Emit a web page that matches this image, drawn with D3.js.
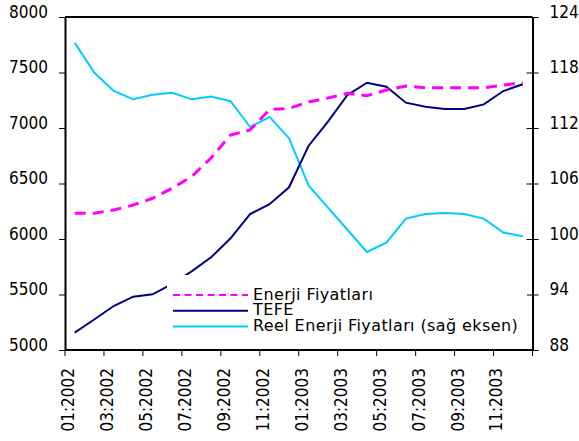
<!DOCTYPE html>
<html>
<head>
<meta charset="utf-8">
<title>Enerji Fiyatlari</title>
<style>
    body { margin: 0; background: #fff; }
    text { font-family: "DejaVu Sans Condensed", "DejaVu Sans", sans-serif; fill: #000; }
</style>
</head>
<body>
<svg id="chart"></svg>
<script src="https://d3js.org/d3.v7.min.js"></script>
<script>
    // months on the x axis
    const months = ["01:2002", "02:2002", "03:2002", "04:2002", "05:2002", "06:2002",
                    "07:2002", "08:2002", "09:2002", "10:2002", "11:2002", "12:2002",
                    "01:2003", "02:2003", "03:2003", "04:2003", "05:2003", "06:2003",
                    "07:2003", "08:2003", "09:2003", "10:2003", "11:2003", "12:2003"];
    const monthLabels = ["01:2002", "03:2002", "05:2002", "07:2002", "09:2002", "11:2002",
                         "01:2003", "03:2003", "05:2003", "07:2003", "09:2003", "11:2003"];

    // left axis series
    const enerji = [6231, 6233, 6261, 6306, 6367, 6457, 6561, 6730, 6937, 6982, 7166, 7177,
                    7234, 7270, 7313, 7291, 7342, 7378, 7363, 7363, 7363, 7363, 7387, 7405];
    const tefe = [5156, 5275, 5396, 5480, 5502, 5595, 5709, 5835, 6006, 6225, 6313, 6466,
                  6838, 7057, 7297, 7408, 7372, 7228, 7192, 7171, 7171, 7213, 7333, 7394];
    // right axis series
    const reel = [121.2, 118.0, 116.0, 115.1, 115.6, 115.8, 115.1, 115.4, 114.9, 112.1, 113.2, 110.9,
                  105.8, 103.4, 101.0, 98.6, 99.6, 102.2, 102.7, 102.8, 102.7, 102.2, 100.7, 100.3];

    const leftTicks = [5000, 5500, 6000, 6500, 7000, 7500, 8000];
    const rightTicks = [88, 94, 100, 106, 112, 118, 124];

    const legendNames = ["Enerji Fiyatları", "TEFE", "Reel Enerji Fiyatları (sağ eksen)"];

    const svgWidth = 579, svgHeight = 441;
    const margin = {top: 17, right: 46.5, bottom: 91, left: 65};
    const width = svgWidth - margin.left - margin.right;
    const height = svgHeight - margin.top - margin.bottom;

    const svg = d3.select("#chart")
        .attr("width", svgWidth)
        .attr("height", svgHeight);

    const g = svg.append("g")
        .attr("transform", "translate(" + margin.left + "," + margin.top + ")");

    const x = d3.scaleBand().domain(months).range([0, width]).padding(0);
    const yL = d3.scaleLinear().domain([5000, 8000]).range([height, 0]);
    const yR = d3.scaleLinear().domain([88, 124]).range([height, 0]);
    const cx = function(i) { return x(months[i]) + x.bandwidth() / 2; };

    // top border of the plot area
    g.append("line")
        .attr("x1", 0).attr("x2", width)
        .attr("y1", 0).attr("y2", 0)
        .attr("stroke", "#000")
        .attr("stroke-width", 2);

    // lines
    const lineL = d3.line()
        .x(function(d, i) { return cx(i); })
        .y(function(d) { return yL(d); });
    const lineR = d3.line()
        .x(function(d, i) { return cx(i); })
        .y(function(d) { return yR(d); });

    g.append("path")
        .datum(reel)
        .attr("fill", "none")
        .attr("stroke", "#00CCFF")
        .attr("stroke-width", 2)
        .attr("d", lineR);

    g.append("path")
        .datum(tefe)
        .attr("fill", "none")
        .attr("stroke", "#000080")
        .attr("stroke-width", 2)
        .attr("d", lineL);

    g.append("path")
        .datum(enerji)
        .attr("fill", "none")
        .attr("stroke", "#FF00FF")
        .attr("stroke-width", 3)
        .attr("stroke-dasharray", "11,7")
        .attr("d", lineL);

    // left axis
    const axL = g.append("g")
        .call(d3.axisLeft(yL).tickValues(leftTicks).tickFormat(d3.format("d"))
            .tickSize(6).tickSizeOuter(0).tickPadding(11));
    axL.select(".domain").attr("stroke-width", 2);
    axL.selectAll("text").attr("y", -5).style("font-size", "17px")
        .style("font-family", "'DejaVu Sans Condensed', sans-serif");

    // right axis
    const axR = g.append("g")
        .attr("transform", "translate(" + width + ",0)")
        .call(d3.axisRight(yR).tickValues(rightTicks).tickSize(6).tickSizeOuter(0).tickPadding(11));
    axR.select(".domain").attr("stroke-width", 2);
    axR.selectAll(".tick line").attr("x1", -6);
    axR.selectAll("text").attr("y", -5).style("font-size", "17px")
        .style("font-family", "'DejaVu Sans Condensed', sans-serif");

    // bottom axis
    const axB = g.append("g").attr("transform", "translate(0," + height + ")");
    axB.append("line")
        .attr("x1", 0).attr("x2", width)
        .attr("stroke", "#000")
        .attr("stroke-width", 2);
    const tickPos = monthLabels.map(function(m) { return x(m); }).concat([width]);
    axB.selectAll(".tk")
        .data(tickPos)
        .enter().append("line")
        .attr("x1", function(d) { return d; })
        .attr("x2", function(d) { return d; })
        .attr("y1", 0).attr("y2", 6)
        .attr("stroke", "#000");
    axB.selectAll(".lbl")
        .data(monthLabels)
        .enter().append("text")
        .attr("transform", function(d) { return "translate(" + (x(d) + 3) + ",18) rotate(-90)"; })
        .attr("text-anchor", "end")
        .attr("dy", "0.35em")
        .style("font-size", "17px")
        .text(function(d) { return d; });

    // legend
    const leg = g.append("g").attr("transform", "translate(102,258)");
    leg.append("rect")
        .attr("x", 0).attr("y", 0)
        .attr("width", 360).attr("height", 60)
        .attr("fill", "#fff");
    const legColors = ["#FF00FF", "#000080", "#00CCFF"];
    legendNames.forEach(function(name, i) {
        const ly = 20 + i * 15.8;
        leg.append("line")
            .attr("x1", 6).attr("x2", 81)
            .attr("y1", ly).attr("y2", ly)
            .attr("stroke", legColors[i])
            .attr("stroke-width", 2)
            .attr("stroke-dasharray", i === 0 ? "7,4.5" : null);
        leg.append("text")
            .attr("x", 86)
            .attr("y", ly + 4.5)
            .style("font-family", "'DejaVu Sans', sans-serif")
            .style("font-size", "16px")
            .style("letter-spacing", "0.4px")
            .text(name);
    });
</script>
</body>
</html>
